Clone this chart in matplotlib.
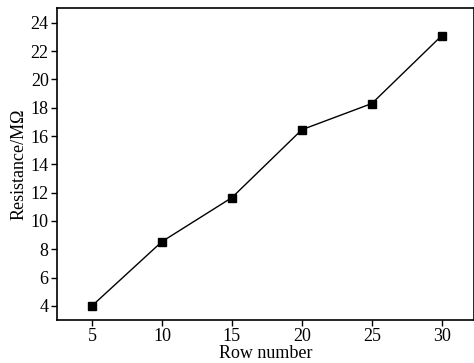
import matplotlib.pyplot as plt

rows = [5, 10, 15, 20, 25, 30]
resistance = [4.0, 8.54, 11.65, 16.45, 18.3, 23.1]
xticks = [5, 10, 15, 20, 25, 30]
yticks = [4, 6, 8, 10, 12, 14, 16, 18, 20, 22, 24]

plt.rcParams['font.family'] = 'Liberation Serif'
plt.rcParams['font.size'] = 13

fig = plt.figure(figsize=(4.74, 3.63), dpi=100)
ax = fig.add_axes([57 / 474, 43 / 363, 417 / 474, 312 / 363])

ax.plot(rows, resistance, color='black', lw=1.0, marker='s', ms=5.5,
        markerfacecolor='black', markeredgecolor='black')

ax.set_xlim(2.5, 32.3)
ax.set_ylim(3.0, 25.05)
ax.set_xticks(xticks)
ax.set_yticks(yticks)
ax.tick_params(direction='out', length=4, width=1, pad=2)
for s in ax.spines.values():
    s.set_linewidth(1.2)

ax.set_xlabel('Row number', labelpad=0)
ax.set_ylabel('Resistance/M\u03a9', labelpad=2)

fig.savefig('out.png')
